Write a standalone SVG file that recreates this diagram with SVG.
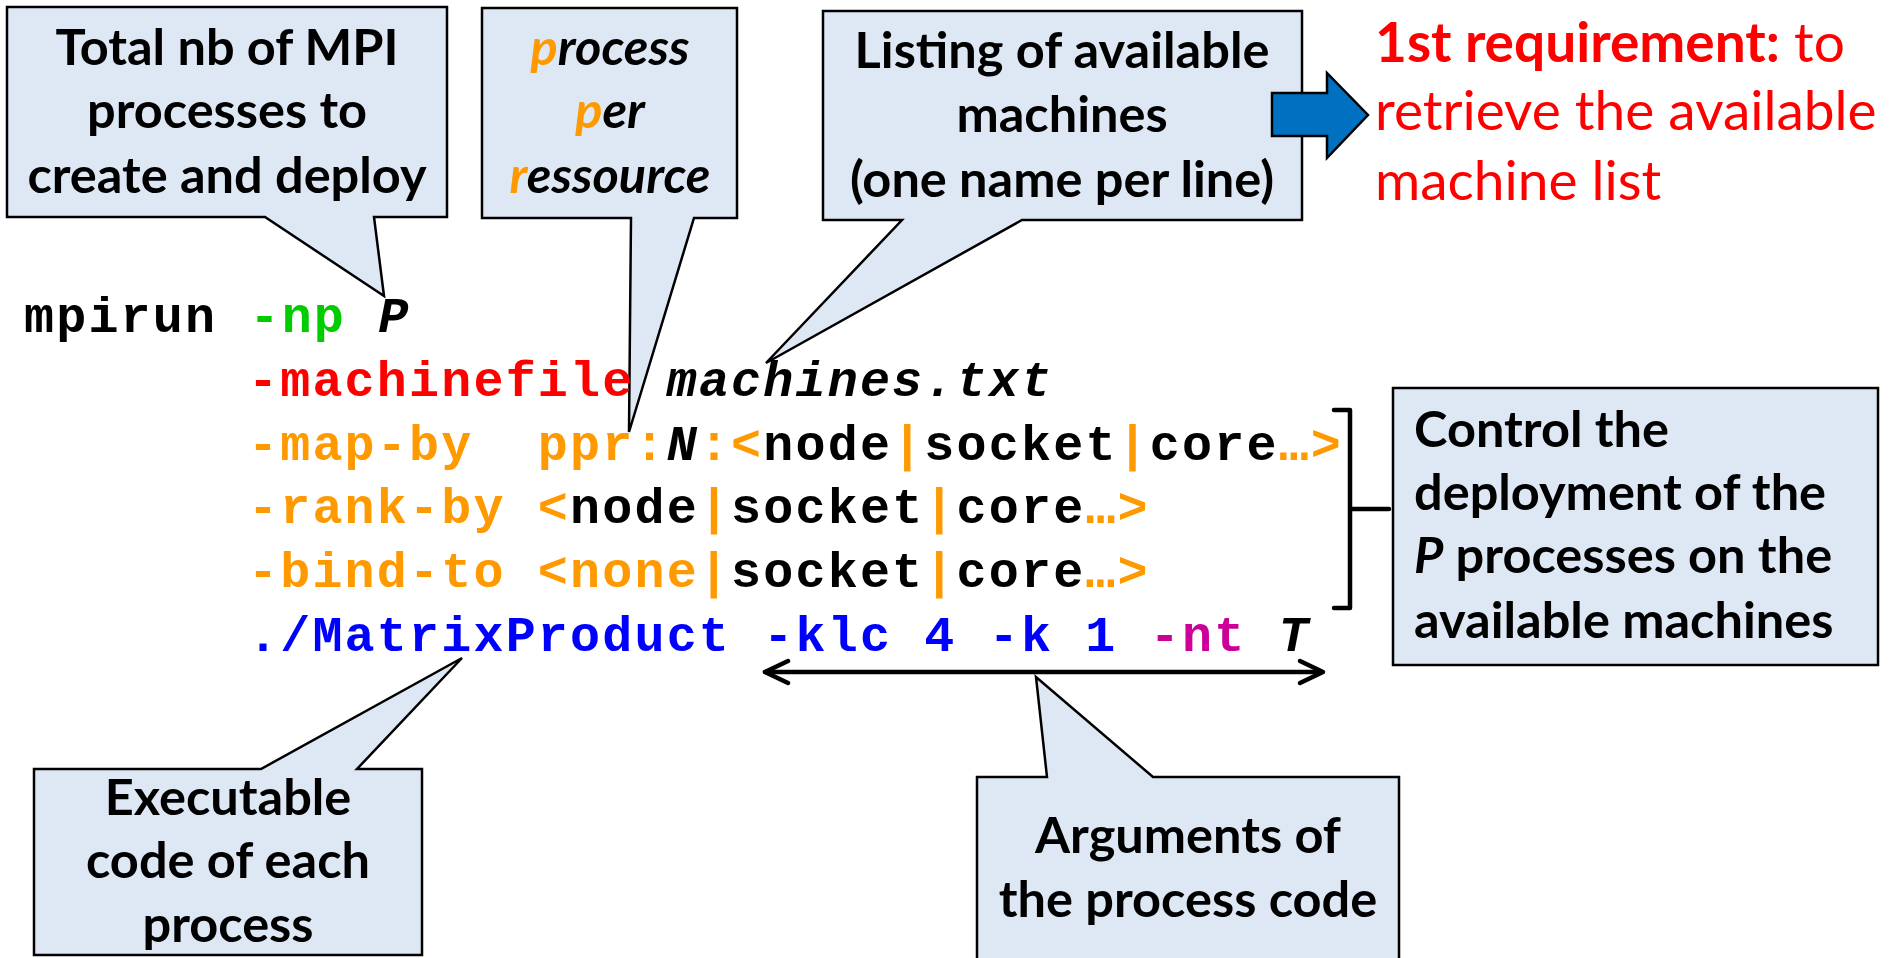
<svg xmlns="http://www.w3.org/2000/svg" width="1894" height="958" viewBox="0 0 1894 958">
  <style>
    .bubble { fill: #DEE8F5; stroke: #000; stroke-width: 2.5; stroke-linejoin: miter; }
    .note { font-family: Lato, "Liberation Sans", sans-serif; font-weight: bold; font-size: 50.5px; fill: #000; }
    .mid { text-anchor: middle; }
    .code { font-family: "Liberation Mono", "DejaVu Sans Mono", monospace; font-weight: bold; font-size: 50px; letter-spacing: 2.2px; white-space: pre; }
    .it { font-style: italic; }
    .k { fill: #000; }
    .g { fill: #00CC00; }
    .r { fill: #FF0000; }
    .o { fill: #FF9900; }
    .b { fill: #0000FF; }
    .m { fill: #CC0099; }
    .req { font-family: Lato, "Liberation Sans", sans-serif; font-size: 55px; fill: #FF0000; }
    .line { fill: none; stroke: #000; stroke-width: 4.5; stroke-linecap: round; stroke-linejoin: round; }
  </style>

  <rect x="0" y="0" width="1894" height="958" fill="#fff"/>

  <!-- callout: total number of processes -->
  <g id="callout-np">
    <path class="bubble" d="M7,7 H447 V217 H374 L384,296 L265,217 H7 Z"/>
    <text class="note mid" x="227" y="65">Total nb of MPI</text>
    <text class="note mid" x="227" y="128">processes to</text>
    <text class="note mid" x="227" y="193">create and deploy</text>
  </g>

  <!-- callout: ppr meaning -->
  <g id="callout-ppr">
    <path class="bubble" d="M482,8 H737 V218 H694 L629,432 L631,218 H482 Z"/>
    <text class="note mid it" x="610" y="65"><tspan class="o">p</tspan>rocess</text>
    <text class="note mid it" x="610" y="128"><tspan class="o">p</tspan>er</text>
    <text class="note mid it" x="610" y="193"><tspan class="o">r</tspan>essource</text>
  </g>

  <!-- callout: machine file -->
  <g id="callout-machinefile">
    <path class="bubble" d="M823,11 H1302 V220 H1022 L766,363 L902,220 H823 Z"/>
    <text class="note mid" x="1062" y="68">Listing of available</text>
    <text class="note mid" x="1062" y="132">machines</text>
    <text class="note mid" x="1062" y="197">(one name per line)</text>
  </g>

  <!-- requirement note with block arrow -->
  <g id="requirement">
    <path d="M1272,93 H1327 V73 L1368,115 L1327,158 V136 H1272 Z" fill="#0070C0" stroke="#000" stroke-width="2.5"/>
    <text class="req" x="1375" y="62"><tspan font-weight="bold">1st requirement:</tspan> to</text>
    <text class="req" x="1375" y="130">retrieve the available</text>
    <text class="req" x="1375" y="200">machine list</text>
  </g>

  <!-- callout: executable -->
  <g id="callout-exe">
    <path class="bubble" d="M34,769 H261 L462,658 L357,769 H422 V955 H34 Z"/>
    <text class="note mid" x="228" y="815">Executable</text>
    <text class="note mid" x="228" y="878">code of each</text>
    <text class="note mid" x="228" y="942">process</text>
  </g>

  <!-- callout: program arguments -->
  <g id="callout-args">
    <path class="bubble" d="M977,777 H1047 L1036,677 L1153,777 H1399 V966 H977 Z"/>
    <text class="note mid" x="1188" y="853">Arguments of</text>
    <text class="note mid" x="1188" y="917">the process code</text>
  </g>

  <!-- box: deployment control -->
  <g id="box-deploy">
    <rect class="bubble" x="1393" y="388" width="485" height="277"/>
    <text class="note" x="1414" y="447">Control the</text>
    <text class="note" x="1414" y="510">deployment of the</text>
    <text class="note" x="1414" y="573"><tspan class="it">P</tspan> processes on the</text>
    <text class="note" x="1414" y="638">available machines</text>
  </g>

  <!-- command line -->
  <g id="command">
    <text class="code" x="24" y="332"><tspan class="k">mpirun </tspan><tspan class="g">-np </tspan><tspan class="k it">P</tspan></text>
    <text class="code" x="248" y="396"><tspan class="r">-machinefile </tspan><tspan class="k it">machines.txt</tspan></text>
    <text class="code" x="248" y="460"><tspan class="o">-map-by  ppr:</tspan><tspan class="k it">N</tspan><tspan class="o">:&lt;</tspan><tspan class="k">node</tspan><tspan class="o">|</tspan><tspan class="k">socket</tspan><tspan class="o">|</tspan><tspan class="k">core</tspan><tspan class="o">…&gt;</tspan></text>
    <text class="code" x="248" y="523"><tspan class="o">-rank-by &lt;</tspan><tspan class="k">node</tspan><tspan class="o">|</tspan><tspan class="k">socket</tspan><tspan class="o">|</tspan><tspan class="k">core</tspan><tspan class="o">…&gt;</tspan></text>
    <text class="code" x="248" y="587"><tspan class="o">-bind-to &lt;none|</tspan><tspan class="k">socket</tspan><tspan class="o">|</tspan><tspan class="k">core</tspan><tspan class="o">…&gt;</tspan></text>
    <text class="code" x="248" y="651"><tspan class="b">./MatrixProduct -klc 4 -k 1 </tspan><tspan class="m">-nt </tspan><tspan class="k it">T</tspan></text>
  </g>

  <!-- bracket and argument span -->
  <g id="connectors">
    <path class="line" d="M1334,410 H1350 V608 H1334 M1350,509 H1389" stroke-linecap="butt"/>
    <path class="line" d="M765,672 H1321"/>
    <path class="line" d="M788,661 L765,672 L788,683"/>
    <path class="line" d="M1300,661 L1323,672 L1300,683"/>
  </g>
</svg>
